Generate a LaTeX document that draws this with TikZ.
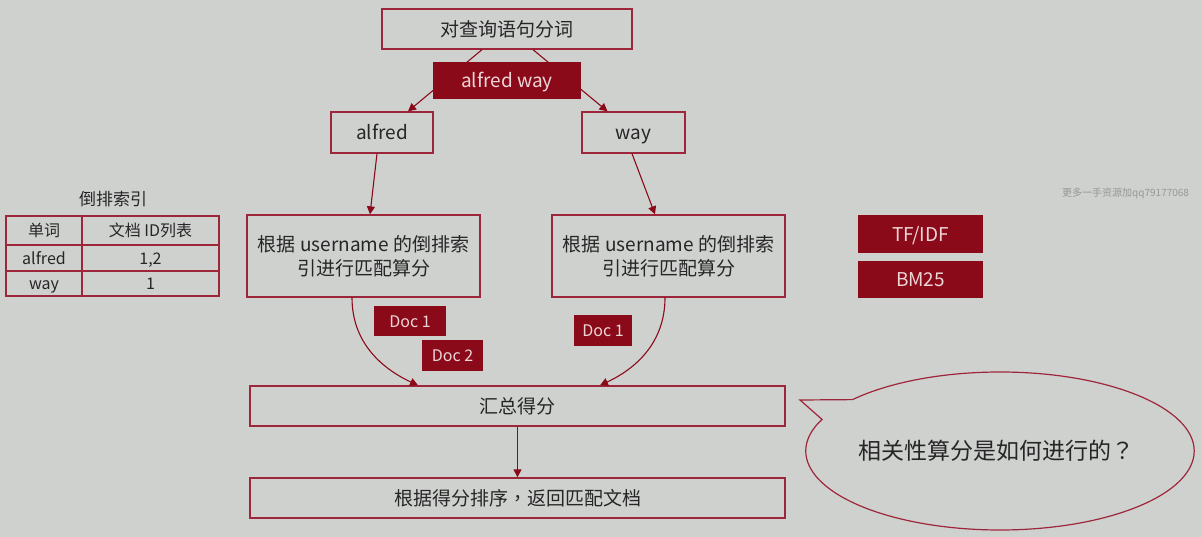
\documentclass[tikz,border=0pt]{standalone}
\usepackage{fontspec}
\setmainfont{Noto Sans CJK SC}
\newfontfamily\tcf{Noto Sans CJK TC}
\usetikzlibrary{arrows.meta,shapes.callouts,shapes.geometric}
\definecolor{bg}{RGB}{207,209,207}
\definecolor{bord}{RGB}{158,38,58}
\definecolor{dred}{RGB}{139,10,26}
\definecolor{ltxt}{RGB}{236,214,214}
\definecolor{wm}{RGB}{150,152,150}
\tikzset{
  obox/.style={draw=bord, line width=1.3pt, fill=bg, inner sep=0pt, font=\fontsize{19}{24}\selectfont, text=black!85, align=center},
  sla/.style={text height=17pt, text depth=2.3pt},
  slb/.style={text height=14.4pt, text depth=1.9pt},
  fbox/.style={fill=dred, inner sep=0pt, text=ltxt, align=center},
  arr/.style={draw=dred, line width=1.1pt, -{Triangle[length=8pt,width=8pt]}},
  cell/.style={draw=bord, line width=1.1pt, inner sep=0pt, font=\fontsize{16}{19}\selectfont, text=black!85, slb}
}
\begin{document}
\begin{tikzpicture}[x=1pt,y=-1pt]
\useasboundingbox[fill=bg] (0,0) rectangle (1202,537);

% top
\node[obox, sla, minimum width=250, minimum height=40] (top) at (507,29) {对查询语句分词};
\node[obox, sla, minimum width=102, minimum height=41] (alf) at (382,132.5) {alfred};
\node[obox, sla, minimum width=103, minimum height=41] (way) at (633.5,132.5) {way};
\draw[arr] ([xshift=-25]top.south) -- ([xshift=26]alf.north);
\draw[arr] ([xshift=26]top.south) -- ([xshift=-26]way.north);
\node[fbox, sla, minimum width=148, minimum height=37, font=\fontsize{19}{24}\selectfont] (aw) at (507,80.5) {alfred way};

% match boxes
\node[obox, minimum width=233, minimum height=82] (lm) at (363.5,256) {根据 username 的倒排索\\引进行匹配算分};
\node[obox, minimum width=233, minimum height=82] (rm) at (668.5,256) {根据 username 的倒排索\\引进行匹配算分};
\draw[arr] ([xshift=-5]alf.south) -- ([xshift=6.5]lm.north);
\draw[arr] ([xshift=-1.5]way.south) -- ([xshift=-13.5]rm.north);

% sum and result
\node[obox, sla, minimum width=535, minimum height=40] (sum) at (517.5,406) {汇总得分};
\node[obox, sla, minimum width=535, minimum height=40] (res) at (517.5,498) {根据得分排序{\tcf ，}返回匹配文档};
\draw[arr] ([xshift=-11.5]lm.south) to[out=-90,in=155] ([xshift=-99.5]sum.north);
\draw[arr] ([xshift=-3.5]rm.south) to[out=-90,in=25] ([xshift=82.5]sum.north);
\draw[arr] (sum.south) -- (res.north);

% doc labels
\node[fbox, slb, minimum width=72, minimum height=30, font=\fontsize{16}{19}\selectfont] (d1) at (410,321) {Doc 1};
\node[fbox, slb, minimum width=61, minimum height=31, font=\fontsize{16}{19}\selectfont] (d2) at (452.5,355.5) {Doc 2};
\node[fbox, slb, minimum width=58, minimum height=31, font=\fontsize{16}{19}\selectfont] (d3) at (603,330.5) {Doc 1};

% TF/IDF, BM25
\node[fbox, sla, minimum width=125, minimum height=38, font=\fontsize{19}{23}\selectfont] (tf) at (920.5,234) {TF/IDF};
\node[fbox, sla, minimum width=125, minimum height=37, font=\fontsize{19}{23}\selectfont] (bm) at (920.5,279.5) {BM25};

% callout
\node[ellipse callout, draw=bord, line width=1.2pt, fill=bg, minimum width=386, minimum height=158,
      callout absolute pointer={(800,400)}, callout pointer arc=17,
      font=\fontsize{23}{27}\selectfont, text=black!85] (q) at (1000,451) {\hspace{-8pt}相关性算分是如何进行的{\tcf ？}};

% inverted index table
\node[font=\fontsize{17}{20}\selectfont, text=black!85] (tt) at (113,199) {倒排索引};
\node[cell, minimum width=76, minimum height=29] (h1) at (44,230.5) {单词};
\node[cell, minimum width=137, minimum height=29] (h2) at (150.5,230.5) {文档 ID列表};
\node[cell, minimum width=76, minimum height=26] (a1) at (44,258) {alfred};
\node[cell, minimum width=137, minimum height=26] (a2) at (150.5,258) {1,2};
\node[cell, minimum width=76, minimum height=25] (w1) at (44,283.5) {way};
\node[cell, minimum width=137, minimum height=25] (w2) at (150.5,283.5) {1};

% watermark
\node[anchor=west, inner sep=0pt, font=\fontsize{10}{12}\selectfont, text=wm] (wmk) at (1062,193) {更多一手资源加qq79177068};
\end{tikzpicture}
\end{document}
